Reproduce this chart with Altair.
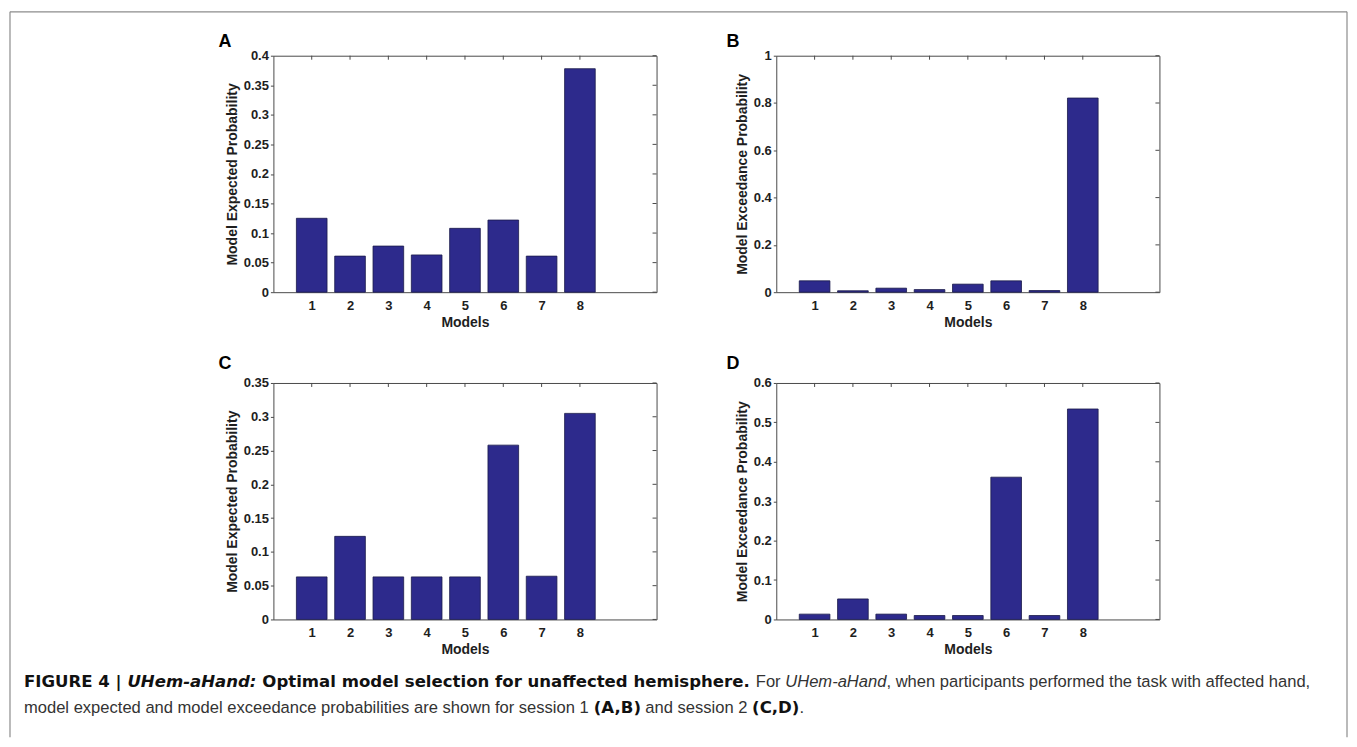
import altair as alt
import pandas as pd

# ---------------- data ----------------
models = [1, 2, 3, 4, 5, 6, 7, 8]
expected_s1 = [0.125, 0.061, 0.078, 0.063, 0.108, 0.122, 0.061, 0.378]
exceed_s1 = [0.048, 0.006, 0.017, 0.011, 0.034, 0.048, 0.007, 0.821]
expected_s2 = [0.063, 0.123, 0.063, 0.063, 0.063, 0.258, 0.064, 0.305]
exceed_s2 = [0.0135, 0.052, 0.0135, 0.010, 0.010, 0.361, 0.010, 0.534]

x_ticks = [1, 2, 3, 4, 5, 6, 7, 8]
yticks_A = [0, 0.05, 0.1, 0.15, 0.2, 0.25, 0.3, 0.35, 0.4]
yticks_B = [0, 0.2, 0.4, 0.6, 0.8, 1]
yticks_C = [0, 0.05, 0.1, 0.15, 0.2, 0.25, 0.3, 0.35]
yticks_D = [0, 0.1, 0.2, 0.3, 0.4, 0.5, 0.6]

title_expected = "Model Expected Probability"
title_exceed = "Model Exceedance Probability"
x_title = "Models"

caption_line1 = [
    ("FIGURE 4 | ", "bold", "normal"),
    ("UHem-aHand:", "bold", "italic"),
    (" Optimal model selection for unaffected hemisphere.", "bold", "normal"),
    (" For ", "normal", "normal"),
    ("UHem-aHand", "normal", "italic"),
    (", when participants performed the task with affected hand,", "normal", "normal"),
]
caption_line2 = [
    ("model expected and model exceedance probabilities are shown for session 1 ", "normal", "normal"),
    ("(A,B)", "bold", "normal"),
    (" and session 2 ", "normal", "normal"),
    ("(C,D)", "bold", "normal"),
    (".", "normal", "normal"),
]

# ---------------- styling ----------------
FONT = "Liberation Sans"
BOLD_CAP_FONT = "DejaVu Sans"
W, H = 384, 237
BAR = "#2d2a8c"
EDGE = "#1b1a4a"
AX = "#4a4a4a"
TXT = "#1e1e1e"
CAP_SIZE = 16.6

# advance widths (per 1000 em) used to lay out the mixed-style caption
_REG = {' ': 278, 'a': 556, 'b': 556, 'c': 500, 'd': 556, 'e': 556, 'f': 278, 'g': 556, 'h': 556,
        'i': 222, 'j': 222, 'k': 500, 'l': 222, 'm': 833, 'n': 556, 'o': 556, 'p': 556, 'q': 556,
        'r': 333, 's': 500, 't': 278, 'u': 556, 'v': 500, 'w': 722, 'x': 500, 'y': 500, 'z': 500,
        'A': 667, 'B': 667, 'C': 722, 'D': 722, 'E': 667, 'F': 611, 'G': 778, 'H': 722, 'I': 278,
        'O': 778, 'R': 722, 'U': 722, ',': 278, '.': 278, ':': 278, '-': 333, '(': 333, ')': 333,
        '|': 260}
_BOLD = {' ': 348, '(': 457, ')': 457, ',': 380, '-': 415, '.': 380, ':': 400, '|': 365,
         'A': 774, 'B': 762, 'C': 734, 'D': 830, 'E': 683, 'F': 683, 'G': 821, 'H': 837, 'I': 372,
         'O': 850, 'R': 770, 'U': 812, 'a': 675, 'b': 716, 'c': 593, 'd': 716, 'e': 678, 'f': 435,
         'h': 712, 'i': 343, 'l': 343, 'm': 1042, 'n': 712, 'o': 687, 'p': 716, 'r': 493, 's': 595,
         't': 478, 'u': 712, 'y': 652}


def text_width(s, weight, size):
    table = _BOLD if weight == "bold" else _REG
    dflt = 696 if weight == "bold" else 556
    return sum(table.get(ch, dflt) for ch in s) * size / 1000.0


one_row = pd.DataFrame({"k": [0]})


def text_layer(txt, x, y, size, weight="normal", style="normal", color=TXT, font=FONT):
    return alt.Chart(one_row).mark_text(
        text=txt, font=font, fontSize=size, fontWeight=weight, fontStyle=style,
        color=color, align="left", baseline="alphabetic"
    ).encode(x=alt.value(x), y=alt.value(y))


def caption_layers(x0, y1, y2):
    layers = []
    for segs, yy in ((caption_line1, y1), (caption_line2, y2)):
        cx = x0
        for txt, weight, style in segs:
            bold = weight == "bold"
            col = "#111111" if bold else "#333333"
            lead = len(txt) - len(txt.lstrip(" "))
            core = txt.strip(" ")
            if core:
                layers.append(text_layer(core, cx + text_width(" " * lead, weight, CAP_SIZE), yy,
                                         CAP_SIZE, weight, style, col,
                                         BOLD_CAP_FONT if bold else FONT))
            cx += text_width(txt, weight, CAP_SIZE)
    return layers


def frame_layers():
    L, T, R, B = -264, -44, 1076, 683
    col = "#8c8c8c"
    return [
        alt.Chart(one_row).mark_rule(color=col, strokeWidth=1.2).encode(
            x=alt.value(L), y=alt.value(T), y2=alt.value(B)),
        alt.Chart(one_row).mark_rule(color=col, strokeWidth=1.2).encode(
            x=alt.value(L), x2=alt.value(R), y=alt.value(T)),
        alt.Chart(one_row).mark_rule(color=col, strokeWidth=1.2).encode(
            x=alt.value(R), y=alt.value(T), y2=alt.value(B)),
    ]


def panel(values, yticks, ytitle, letter, letter_x, letter_y, extras=()):
    x_scale = alt.Scale(domain=[0, 10], nice=False, zero=False)
    y_scale = alt.Scale(domain=[yticks[0], yticks[-1]], nice=False)
    x_axis = alt.Axis(values=x_ticks, title=x_title, tickSize=0, labelPadding=7,
                      titlePadding=3, labelFontSize=13, titleFontSize=14)
    y_axis = alt.Axis(values=yticks, format="~g", title=ytitle, tickSize=3, labelPadding=2,
                      titlePadding=4, labelFontSize=13, titleFontSize=14)
    x_enc = alt.X("xm:Q", scale=x_scale, axis=x_axis)
    y_enc = alt.Y("p:Q", scale=y_scale, axis=y_axis)

    df = pd.DataFrame({"model": models, "p": values})
    bars = alt.Chart(df).transform_calculate(
        xm="datum.model - 0.4", xm2="datum.model + 0.4"
    ).mark_bar(color=BAR, stroke=EDGE, strokeWidth=0.8).encode(
        x=x_enc, x2="xm2:Q", y=y_enc, y2=alt.datum(0)
    )
    right_ticks = alt.Chart(pd.DataFrame({"p": yticks})).mark_rule(
        color=AX, strokeWidth=1).encode(y=y_enc, x=alt.value(W - 4), x2=alt.value(W))
    top_ticks = alt.Chart(pd.DataFrame({"xm": x_ticks})).mark_rule(
        color=AX, strokeWidth=1).encode(x=x_enc, y=alt.value(0), y2=alt.value(4))
    lab = text_layer(letter, letter_x, letter_y, 18, "bold", color="#000000")
    return alt.layer(bars, right_ticks, top_ticks, lab, *extras).properties(width=W, height=H)


pA = panel(expected_s1, yticks_A, title_expected, "A", -55, -9, frame_layers())
pB = panel(exceed_s1, yticks_B, title_exceed, "B", -50, -9)
pC = panel(expected_s2, yticks_C, title_expected, "C", -55, -14, caption_layers(-250, 305, 331))
pD = panel(exceed_s2, yticks_D, title_exceed, "D", -50, -14)

chart = alt.concat(
    pA, pB, pC, pD, columns=2, spacing={"row": 91, "column": 120}, bounds="flush"
).properties(
    padding={"left": 0, "top": 1, "right": 0, "bottom": 0}
).configure_view(
    stroke=AX, strokeWidth=1
).configure_axis(
    domain=False, labelFont=FONT, titleFont=FONT, labelFontWeight="bold", titleFontWeight="bold",
    labelColor=TXT, titleColor=TXT, tickColor=AX, grid=False
)

chart.save("out.html", embed_options={"renderer": "svg", "actions": False})
